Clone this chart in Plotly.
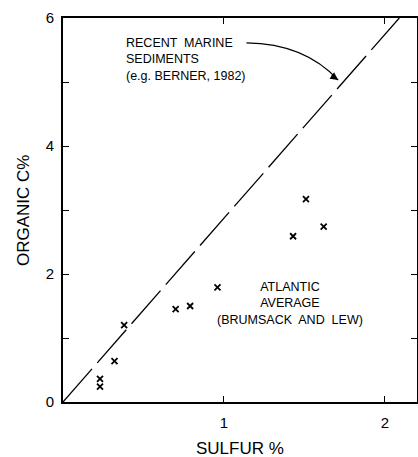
import plotly.graph_objects as go

# Atlantic average samples (sulfur %, organic C %)
sulfur = [0.23, 0.23, 0.32, 0.38, 0.70, 0.79, 0.96, 1.43, 1.51, 1.62]
organic_c = [0.24, 0.36, 0.64, 1.20, 1.45, 1.50, 1.79, 2.59, 3.17, 2.74]

# Recent marine sediments line (e.g. Berner, 1982)
line_x = [0, 2.09]
line_y = [0, 6]

x_tickvals = [1, 2]
x_ticktext = ["1", "2"]
y_tickvals = [0, 1, 2, 3, 4, 5, 6]
y_ticktext = ["0", "", "2", "", "4", "", "6"]

# curved arrow (bezier) in data coords
arrow_start = (1.14, 5.61)
arrow_ctrl = (1.50, 5.60)
arrow_end = (1.71, 5.03)

fig = go.Figure()
fig.add_trace(go.Scatter(x=line_x, y=line_y, mode="lines",
                         line=dict(color="black", width=1.3, dash="44px,8px"),
                         showlegend=False, hoverinfo="skip"))
fig.add_trace(go.Scatter(x=sulfur, y=organic_c, mode="markers",
                         marker=dict(symbol="x-thin", size=6, color="black",
                                     line=dict(color="black", width=1.8)),
                         showlegend=False))

path = "M {},{} Q {},{} {},{}".format(arrow_start[0], arrow_start[1],
                                      arrow_ctrl[0], arrow_ctrl[1],
                                      arrow_end[0], arrow_end[1])
fig.add_shape(type="path", path=path, xref="x", yref="y",
              line=dict(color="black", width=1.2))
fig.add_annotation(x=arrow_end[0], y=arrow_end[1], ax=1.66, ay=5.12,
                   xref="x", yref="y", axref="x", ayref="y", text="",
                   showarrow=True, arrowhead=2, arrowsize=1.3, arrowwidth=1.2,
                   arrowcolor="black")

lab_font = dict(family="Liberation Sans", size=12.5, color="black")
fig.add_annotation(x=0.38, y=5.75, xref="x", yref="y",
                   text="RECENT  MARINE<br>SEDIMENTS<br>(e.g. BERNER, 1982)",
                   showarrow=False, align="left", xanchor="left", yanchor="top",
                   font=lab_font)
fig.add_annotation(x=1.41, y=1.94, xref="x", yref="y",
                   text="ATLANTIC<br>AVERAGE<br>(BRUMSACK  AND  LEW)",
                   showarrow=False, align="center", xanchor="center", yanchor="top",
                   font=lab_font)

# axis titles as paper annotations for exact placement
title_font = dict(family="Liberation Sans", size=17, color="black")
fig.add_annotation(x=0.5, y=-0.12, xref="paper", yref="paper", text="SULFUR %",
                   showarrow=False, xanchor="center", yanchor="middle", font=title_font)
fig.add_annotation(x=-0.113, y=0.5, xref="paper", yref="paper", text="ORGANIC C%",
                   showarrow=False, textangle=-90, xanchor="center", yanchor="middle",
                   font=title_font)

axis_common = dict(showline=True, linecolor="black", linewidth=2, mirror="ticks",
                   ticks="inside", ticklen=6, tickwidth=1.3, tickcolor="black",
                   showgrid=False, zeroline=False, automargin=False,
                   tickfont=dict(family="Liberation Sans", size=15, color="black"))

fig.update_xaxes(range=[0, 2.2], tickvals=x_tickvals, ticktext=x_ticktext,
                 ticklabelstandoff=6, **axis_common)
fig.update_yaxes(range=[0, 6], tickvals=y_tickvals, ticktext=y_ticktext,
                 ticklabelstandoff=4, **axis_common)

fig.update_layout(template="none", width=418, height=457,
                  margin=dict(l=63, r=1, t=18, b=55),
                  plot_bgcolor="white", paper_bgcolor="white")

fig.write_html("out.html", config={"displayModeBar": False},
               post_script="document.body.style.margin='0px';document.body.style.padding='0px';")
